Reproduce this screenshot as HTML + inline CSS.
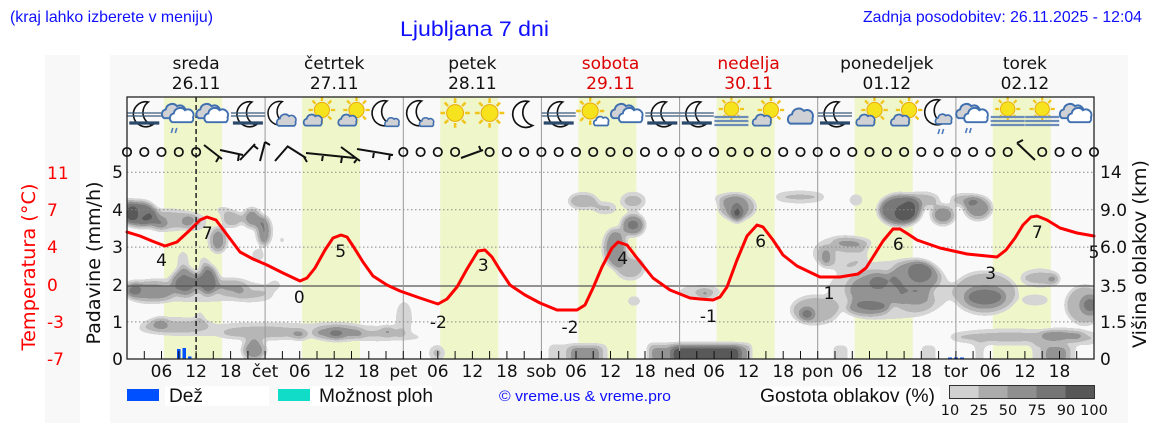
<!DOCTYPE html>
<html><head><meta charset="utf-8"><style>html,body{margin:0;padding:0;background:#fff}svg{display:block}</style></head><body>
<svg xmlns="http://www.w3.org/2000/svg" width="1152" height="443" viewBox="0 0 1152 443" font-family="'DejaVu Sans', sans-serif">
<defs>
<clipPath id="pc"><rect x="127" y="97" width="967" height="262"/></clipPath>
<filter id="cf" filterUnits="userSpaceOnUse" x="100" y="150" width="1020" height="230" color-interpolation-filters="sRGB">
<feGaussianBlur stdDeviation="3.2"/>
<feComponentTransfer><feFuncA type="discrete" tableValues="0 0.145 0.27 0.41 0.52 0.64"/></feComponentTransfer>
<feColorMatrix type="matrix" values="0 0 0 -0.9725 0.9725 0 0 0 -0.9725 0.9725 0 0 0 -0.9725 0.9725 0 0 0 100 0"/>
</filter>
</defs>
<rect width="1152" height="443" fill="#fff"/>
<rect x="45" y="55" width="35" height="368" fill="#f8f8f8"/>
<rect x="110" y="55" width="1018" height="368" fill="#f8f8f8"/>
<rect x="127" y="97" width="967" height="262" fill="#f9f9f9"/>
<g fill="#eff6c9">
<rect x="164" y="97" width="58" height="262"/><rect x="302.1" y="97" width="58" height="262"/><rect x="440.3" y="97" width="58" height="262"/><rect x="578.4" y="97" width="58" height="262"/><rect x="716.6" y="97" width="58" height="262"/><rect x="854.7" y="97" width="58" height="262"/><rect x="992.8" y="97" width="58" height="262"/>
</g>
<g clip-path="url(#pc)"><g filter="url(#cf)" fill="#000">
<ellipse cx="140" cy="214" rx="17" ry="13" fill-opacity="0.78"/><ellipse cx="129" cy="212" rx="8" ry="13" fill-opacity="0.6"/><ellipse cx="168" cy="220" rx="28" ry="11" fill-opacity="0.4"/><ellipse cx="160" cy="223" rx="7" ry="6" fill-opacity="0.5"/><ellipse cx="194" cy="222" rx="13" ry="9" fill-opacity="0.34"/><ellipse cx="218" cy="240" rx="9" ry="13" fill-opacity="0.58"/><ellipse cx="232" cy="219" rx="10" ry="8" fill-opacity="0.5"/><ellipse cx="252" cy="218" rx="9" ry="10" fill-opacity="0.6"/><ellipse cx="264" cy="231" rx="7" ry="15" fill-opacity="0.68"/><ellipse cx="258" cy="255" rx="6" ry="6" fill-opacity="0.38"/><ellipse cx="282" cy="240" rx="4" ry="5" fill-opacity="0.3"/><ellipse cx="222" cy="210" rx="8" ry="5" fill-opacity="0.25"/>
<ellipse cx="150" cy="292" rx="25" ry="11" fill-opacity="0.45"/><ellipse cx="133" cy="289" rx="9" ry="8" fill-opacity="0.45"/><ellipse cx="185" cy="282" rx="14" ry="14" fill-opacity="0.62"/><ellipse cx="208" cy="280" rx="10" ry="15" fill-opacity="0.72"/><ellipse cx="232" cy="288" rx="16" ry="8" fill-opacity="0.38"/><ellipse cx="183" cy="262" rx="6" ry="12" fill-opacity="0.3"/><ellipse cx="204" cy="262" rx="5" ry="6" fill-opacity="0.32"/><ellipse cx="275" cy="285" rx="6" ry="5" fill-opacity="0.35"/><ellipse cx="255" cy="296" rx="20" ry="7" fill-opacity="0.22"/><ellipse cx="200" cy="290" rx="75" ry="14" fill-opacity="0.22"/>
<ellipse cx="270" cy="330" rx="135" ry="9" fill-opacity="0.22"/>
<ellipse cx="175" cy="325" rx="36" ry="8" fill-opacity="0.32"/><ellipse cx="160" cy="323" rx="8" ry="5" fill-opacity="0.45"/><ellipse cx="262" cy="333" rx="42" ry="7" fill-opacity="0.28"/><ellipse cx="300" cy="335" rx="8" ry="5" fill-opacity="0.42"/><ellipse cx="338" cy="333" rx="26" ry="8" fill-opacity="0.45"/><ellipse cx="336" cy="334" rx="8" ry="4" fill-opacity="0.55"/><ellipse cx="378" cy="336" rx="26" ry="6" fill-opacity="0.28"/><ellipse cx="200" cy="318" rx="4" ry="8" fill-opacity="0.32"/><ellipse cx="404" cy="318" rx="9" ry="18" fill-opacity="0.27"/><ellipse cx="388" cy="331" rx="6" ry="5" fill-opacity="0.38"/><ellipse cx="410" cy="337" rx="15" ry="5" fill-opacity="0.22"/>
<ellipse cx="254" cy="350" rx="12" ry="11" fill-opacity="0.58"/><ellipse cx="437" cy="353" rx="8" ry="8" fill-opacity="0.38"/><rect x="548" y="344" width="60" height="20" fill-opacity="0.3"/><rect x="570" y="346" width="30" height="18" fill-opacity="0.45"/><rect x="648" y="344" width="103" height="20" fill-opacity="0.55"/><rect x="672" y="346" width="68" height="18" fill-opacity="0.9"/><rect x="832" y="344" width="17" height="20" fill-opacity="0.25"/><rect x="920" y="344" width="17" height="20" fill-opacity="0.25"/><rect x="974" y="344" width="11" height="20" fill-opacity="0.25"/><rect x="1032" y="343" width="44" height="20" fill-opacity="0.3"/><rect x="1045" y="346" width="22" height="18" fill-opacity="0.45"/>
<ellipse cx="583" cy="201" rx="15" ry="8" fill-opacity="0.48"/><ellipse cx="605" cy="208" rx="12" ry="6" fill-opacity="0.38"/><ellipse cx="633" cy="201" rx="13" ry="9" fill-opacity="0.38"/><ellipse cx="633" cy="225" rx="12" ry="11" fill-opacity="0.68"/><ellipse cx="615" cy="248" rx="12" ry="20" fill-opacity="0.58"/><ellipse cx="630" cy="268" rx="15" ry="12" fill-opacity="0.42"/><ellipse cx="634" cy="301" rx="8" ry="6" fill-opacity="0.28"/>
<ellipse cx="737" cy="207" rx="19" ry="13" fill-opacity="0.5"/><ellipse cx="737" cy="213" rx="6" ry="9" fill-opacity="0.82"/><ellipse cx="729" cy="198" rx="18" ry="5" fill-opacity="0.27"/><ellipse cx="800" cy="197" rx="26" ry="6" fill-opacity="0.38"/><ellipse cx="700" cy="292" rx="22" ry="7" fill-opacity="0.32"/><ellipse cx="705" cy="294" rx="6" ry="4" fill-opacity="0.45"/>
<ellipse cx="840" cy="253" rx="28" ry="17" fill-opacity="0.3"/><ellipse cx="826" cy="257" rx="6" ry="10" fill-opacity="0.42"/><ellipse cx="853" cy="243" rx="20" ry="6" fill-opacity="0.38"/><ellipse cx="856" cy="200" rx="8" ry="7" fill-opacity="0.28"/><ellipse cx="815" cy="310" rx="25" ry="15" fill-opacity="0.4"/><ellipse cx="807" cy="314" rx="7" ry="6" fill-opacity="0.68"/><ellipse cx="875" cy="290" rx="30" ry="20" fill-opacity="0.4"/><ellipse cx="878" cy="283" rx="10" ry="7" fill-opacity="0.55"/><ellipse cx="915" cy="277" rx="26" ry="18" fill-opacity="0.45"/><ellipse cx="920" cy="272" rx="12" ry="10" fill-opacity="0.56"/><ellipse cx="868" cy="308" rx="22" ry="8" fill-opacity="0.5"/><ellipse cx="915" cy="300" rx="20" ry="12" fill-opacity="0.38"/><ellipse cx="890" cy="290" rx="65" ry="32" fill-opacity="0.2"/><ellipse cx="900" cy="210" rx="22" ry="16" fill-opacity="0.75"/><ellipse cx="905" cy="213" rx="10" ry="8" fill-opacity="0.9"/><ellipse cx="922" cy="200" rx="18" ry="8" fill-opacity="0.42"/><ellipse cx="943" cy="215" rx="12" ry="10" fill-opacity="0.6"/><ellipse cx="965" cy="200" rx="15" ry="6" fill-opacity="0.48"/><ellipse cx="978" cy="208" rx="14" ry="12" fill-opacity="0.58"/><ellipse cx="960" cy="260" rx="3" ry="3" fill-opacity="0.3"/>
<ellipse cx="985" cy="293" rx="33" ry="22" fill-opacity="0.42"/><ellipse cx="985" cy="297" rx="20" ry="10" fill-opacity="0.54"/><ellipse cx="1040" cy="278" rx="20" ry="9" fill-opacity="0.38"/><ellipse cx="1053" cy="280" rx="6" ry="4" fill-opacity="0.48"/><ellipse cx="1035" cy="300" rx="15" ry="6" fill-opacity="0.3"/><ellipse cx="1085" cy="305" rx="20" ry="20" fill-opacity="0.45"/><ellipse cx="1090" cy="305" rx="8" ry="8" fill-opacity="0.6"/><ellipse cx="1010" cy="337" rx="62" ry="8" fill-opacity="0.38"/><ellipse cx="1062" cy="335" rx="22" ry="6" fill-opacity="0.5"/><ellipse cx="1085" cy="338" rx="15" ry="7" fill-opacity="0.35"/>
</g></g>
<g stroke="#888" stroke-width="1" stroke-dasharray="1.5,2.5">
<path d="M127,172.3H1094M127,209.7H1094M127,247.1H1094M127,321.9H1094"/>
</g>
<path d="M127,286H1094" stroke="#555" stroke-width="1.3"/>
<path d="M265.1,97V359M403.3,97V359M541.4,97V359M679.6,97V359M817.7,97V359M955.9,97V359" stroke="#999" stroke-width="1"/>
<g fill="#0050ff"><rect x="177" y="349" width="3.5" height="10"/><rect x="182.5" y="348" width="3.5" height="11"/><rect x="188" y="356.5" width="3.5" height="2.5"/></g>
<path d="M948,358.3H965" stroke="#0050ff" stroke-width="1.6" stroke-dasharray="4,2"/>
<polyline fill="none" stroke="#ff0000" stroke-width="3" stroke-linejoin="round" stroke-linecap="round" points="127,232 140,236 152,241 165,246 177,242 190,230 200,220 207,217 216,220 228,236 240,252 253,259 267,265 283,273 300,281 307,278 315,268 325,250 333,238 341,235 347,237 353,246 363,262 373,276 387,285 400,291 420,298 438,304 447,299 457,287 467,269 478,251 485,250 492,257 500,270 510,285 525,295 540,303 557,310 577,310 585,305 593,288 602,267 612,248 618,242 627,245 637,258 653,278 670,290 690,298 700,299 713,300 720,297 727,287 737,260 747,236 757,225 763,227 773,240 783,255 797,266 820,277 840,277 858,274 866,268 873,257 883,241 893,229 900,229 908,234 917,240 940,248 967,254 997,257 1006,250 1015,238 1023,225 1031,217 1037,216 1047,220 1060,228 1077,233 1094,236"/>
<g font-size="17" fill="#111" text-anchor="middle">
<text x="161.5" y="266">4</text><text x="207.3" y="239">7</text><text x="299.3" y="303">0</text><text x="340.7" y="257">5</text><text x="438.3" y="328">-2</text><text x="483.3" y="271">3</text><text x="570" y="333">-2</text><text x="622.7" y="264">4</text><text x="708.3" y="322">-1</text><text x="760.7" y="247">6</text><text x="829" y="299">1</text><text x="898.3" y="250">6</text><text x="990.7" y="279">3</text><text x="1037.3" y="238">7</text><text x="1094" y="258">5</text>
</g>
<path d="M196.1,97V359" stroke="#222" stroke-width="1.5" stroke-dasharray="5,3"/>
<g id="icons">
<g transform="translate(144.3,114)"><path d="M4,-12A12.5,12.5 0 1 0 8,11A13,13 0 0 1 4,-12Z" fill="#fff" stroke="#111" stroke-width="1.6"/><path d="M-17,-1H17M-17,2H17" stroke="#3b5a7a" stroke-width="1.3"/><path d="M-15,9H15" stroke="#2b4a6b" stroke-width="3.2"/></g>
<g transform="translate(178.8,114)"><path transform="translate(-5,-3) scale(.8)" d="M-12,9A6,6 0 0 1 -10,-2A8,8 0 0 1 4,-6A7,7 0 0 1 14,3A5,5 0 0 1 12,9Z" fill="#cfd1d4" stroke="#3f6fae" stroke-width="2.4"/><path transform="translate(3,1) scale(.8)" d="M-12,9A6,6 0 0 1 -10,-2A8,8 0 0 1 4,-6A7,7 0 0 1 14,3A5,5 0 0 1 12,9Z" fill="#fff" stroke="#3f6fae" stroke-width="2.4"/><path transform="translate(-4,14)" d="M-2,0l-1.5,5M2,0l-1.5,5" stroke="#4d79bd" stroke-width="1.6"/></g>
<g transform="translate(213.3,114)"><path transform="translate(-5,-3) scale(.8)" d="M-12,9A6,6 0 0 1 -10,-2A8,8 0 0 1 4,-6A7,7 0 0 1 14,3A5,5 0 0 1 12,9Z" fill="#cfd1d4" stroke="#3f6fae" stroke-width="2.4"/><path transform="translate(3,1) scale(.8)" d="M-12,9A6,6 0 0 1 -10,-2A8,8 0 0 1 4,-6A7,7 0 0 1 14,3A5,5 0 0 1 12,9Z" fill="#fff" stroke="#3f6fae" stroke-width="2.4"/></g>
<g transform="translate(247.9,114)"><path d="M4,-12A12.5,12.5 0 1 0 8,11A13,13 0 0 1 4,-12Z" fill="#fff" stroke="#111" stroke-width="1.6"/><path d="M-17,-1H17M-17,2H17" stroke="#3b5a7a" stroke-width="1.3"/><path d="M-15,9H15" stroke="#2b4a6b" stroke-width="3.2"/></g>
<g transform="translate(282.4,114)"><path transform="translate(-4,-1) scale(.95)" d="M4,-12A12.5,12.5 0 1 0 8,11A13,13 0 0 1 4,-12Z" fill="#fff" stroke="#111" stroke-width="1.6"/><path transform="translate(4,6) scale(.65)" d="M-12,9A6,6 0 0 1 -10,-2A8,8 0 0 1 4,-6A7,7 0 0 1 14,3A5,5 0 0 1 12,9Z" fill="#cfd1d4" stroke="#3f6fae" stroke-width="2.6"/></g>
<g transform="translate(316.9,114)"><g transform="translate(5,-4) scale(.95)"><path d="M9.5,0H14M6.7,6.7L9.9,9.9M0,9.5V14M-6.7,6.7L-9.9,9.9M-9.5,0H-14M-6.7,-6.7L-9.9,-9.9M0,-9.5V-14M6.7,-6.7L9.9,-9.9" stroke="#f0c419" stroke-width="2.4"/><circle r="8" fill="#f7e31d" stroke="#e9a90e" stroke-width="1"/></g><path transform="translate(-4,6) scale(.62)" d="M-12,9A6,6 0 0 1 -10,-2A8,8 0 0 1 4,-6A7,7 0 0 1 14,3A5,5 0 0 1 12,9Z" fill="#cfd1d4" stroke="#3f6fae" stroke-width="2.8"/></g>
<g transform="translate(351.5,114)"><g transform="translate(5,-4) scale(.95)"><path d="M9.5,0H14M6.7,6.7L9.9,9.9M0,9.5V14M-6.7,6.7L-9.9,9.9M-9.5,0H-14M-6.7,-6.7L-9.9,-9.9M0,-9.5V-14M6.7,-6.7L9.9,-9.9" stroke="#f0c419" stroke-width="2.4"/><circle r="8" fill="#f7e31d" stroke="#e9a90e" stroke-width="1"/></g><path transform="translate(-4,6) scale(.62)" d="M-12,9A6,6 0 0 1 -10,-2A8,8 0 0 1 4,-6A7,7 0 0 1 14,3A5,5 0 0 1 12,9Z" fill="#cfd1d4" stroke="#3f6fae" stroke-width="2.8"/></g>
<g transform="translate(386,114)"><path transform="translate(-3,-1)" d="M4,-12A12.5,12.5 0 1 0 8,11A13,13 0 0 1 4,-12Z" fill="#fff" stroke="#111" stroke-width="1.6"/><path transform="translate(6,8) scale(.48)" d="M-12,9A6,6 0 0 1 -10,-2A8,8 0 0 1 4,-6A7,7 0 0 1 14,3A5,5 0 0 1 12,9Z" fill="#cfd1d4" stroke="#3f6fae" stroke-width="3.2"/></g>
<g transform="translate(420.6,114)"><path transform="translate(-3,-1)" d="M4,-12A12.5,12.5 0 1 0 8,11A13,13 0 0 1 4,-12Z" fill="#fff" stroke="#111" stroke-width="1.6"/><path transform="translate(6,8) scale(.48)" d="M-12,9A6,6 0 0 1 -10,-2A8,8 0 0 1 4,-6A7,7 0 0 1 14,3A5,5 0 0 1 12,9Z" fill="#cfd1d4" stroke="#3f6fae" stroke-width="3.2"/></g>
<g transform="translate(455.1,113) scale(1.05)"><path d="M9.5,0H14M6.7,6.7L9.9,9.9M0,9.5V14M-6.7,6.7L-9.9,9.9M-9.5,0H-14M-6.7,-6.7L-9.9,-9.9M0,-9.5V-14M6.7,-6.7L9.9,-9.9" stroke="#f0c419" stroke-width="2.4"/><circle r="8" fill="#f7e31d" stroke="#e9a90e" stroke-width="1"/></g>
<g transform="translate(489.6,113) scale(1.05)"><path d="M9.5,0H14M6.7,6.7L9.9,9.9M0,9.5V14M-6.7,6.7L-9.9,9.9M-9.5,0H-14M-6.7,-6.7L-9.9,-9.9M0,-9.5V-14M6.7,-6.7L9.9,-9.9" stroke="#f0c419" stroke-width="2.4"/><circle r="8" fill="#f7e31d" stroke="#e9a90e" stroke-width="1"/></g>
<g transform="translate(524.2,114) scale(1.05)"><path d="M4,-12A12.5,12.5 0 1 0 8,11A13,13 0 0 1 4,-12Z" fill="#fff" stroke="#111" stroke-width="1.6"/></g>
<g transform="translate(558.7,114)"><path d="M4,-12A12.5,12.5 0 1 0 8,11A13,13 0 0 1 4,-12Z" fill="#fff" stroke="#111" stroke-width="1.6"/><path d="M-17,-1H17M-17,2H17" stroke="#3b5a7a" stroke-width="1.3"/><path d="M-15,9H15" stroke="#2b4a6b" stroke-width="3.2"/></g>
<g transform="translate(593.2,114)"><g transform="translate(-3,-3)"><path d="M9.5,0H14M6.7,6.7L9.9,9.9M0,9.5V14M-6.7,6.7L-9.9,9.9M-9.5,0H-14M-6.7,-6.7L-9.9,-9.9M0,-9.5V-14M6.7,-6.7L9.9,-9.9" stroke="#f0c419" stroke-width="2.4"/><circle r="8" fill="#f7e31d" stroke="#e9a90e" stroke-width="1"/></g><path transform="translate(8,7) scale(.5)" d="M-12,9A6,6 0 0 1 -10,-2A8,8 0 0 1 4,-6A7,7 0 0 1 14,3A5,5 0 0 1 12,9Z" fill="#fff" stroke="#3f6fae" stroke-width="3.4"/></g>
<g transform="translate(627.8,114)"><path transform="translate(-5,-3) scale(.8)" d="M-12,9A6,6 0 0 1 -10,-2A8,8 0 0 1 4,-6A7,7 0 0 1 14,3A5,5 0 0 1 12,9Z" fill="#cfd1d4" stroke="#3f6fae" stroke-width="2.4"/><path transform="translate(3,1) scale(.8)" d="M-12,9A6,6 0 0 1 -10,-2A8,8 0 0 1 4,-6A7,7 0 0 1 14,3A5,5 0 0 1 12,9Z" fill="#fff" stroke="#3f6fae" stroke-width="2.4"/></g>
<g transform="translate(662.3,114)"><path d="M4,-12A12.5,12.5 0 1 0 8,11A13,13 0 0 1 4,-12Z" fill="#fff" stroke="#111" stroke-width="1.6"/><path d="M-17,-1H17M-17,2H17" stroke="#3b5a7a" stroke-width="1.3"/><path d="M-15,9H15" stroke="#2b4a6b" stroke-width="3.2"/></g>
<g transform="translate(696.8,114)"><path d="M4,-12A12.5,12.5 0 1 0 8,11A13,13 0 0 1 4,-12Z" fill="#fff" stroke="#111" stroke-width="1.6"/><path d="M-17,-1H17M-17,2H17" stroke="#3b5a7a" stroke-width="1.3"/><path d="M-15,9H15" stroke="#2b4a6b" stroke-width="3.2"/></g>
<g transform="translate(731.4,114)"><g transform="translate(0,-5) scale(.9)"><path d="M9.5,0H14M6.7,6.7L9.9,9.9M0,9.5V14M-6.7,6.7L-9.9,9.9M-9.5,0H-14M-6.7,-6.7L-9.9,-9.9M0,-9.5V-14M6.7,-6.7L9.9,-9.9" stroke="#f0c419" stroke-width="2.4"/><circle r="8" fill="#f7e31d" stroke="#e9a90e" stroke-width="1"/></g><path d="M-17,3H17M-17,7H17M-17,11H17" stroke="#6b8db8" stroke-width="2.2"/></g>
<g transform="translate(765.9,114)"><g transform="translate(5,-4) scale(.95)"><path d="M9.5,0H14M6.7,6.7L9.9,9.9M0,9.5V14M-6.7,6.7L-9.9,9.9M-9.5,0H-14M-6.7,-6.7L-9.9,-9.9M0,-9.5V-14M6.7,-6.7L9.9,-9.9" stroke="#f0c419" stroke-width="2.4"/><circle r="8" fill="#f7e31d" stroke="#e9a90e" stroke-width="1"/></g><path transform="translate(-4,6) scale(.62)" d="M-12,9A6,6 0 0 1 -10,-2A8,8 0 0 1 4,-6A7,7 0 0 1 14,3A5,5 0 0 1 12,9Z" fill="#cfd1d4" stroke="#3f6fae" stroke-width="2.8"/></g>
<g transform="translate(800.5,116)"><path transform="scale(.85)" d="M-12,9A6,6 0 0 1 -10,-2A8,8 0 0 1 4,-6A7,7 0 0 1 14,3A5,5 0 0 1 12,9Z" fill="#cfd1d4" stroke="#3f6fae" stroke-width="2.3"/></g>
<g transform="translate(835,114)"><path d="M4,-12A12.5,12.5 0 1 0 8,11A13,13 0 0 1 4,-12Z" fill="#fff" stroke="#111" stroke-width="1.6"/><path d="M-17,-1H17M-17,2H17" stroke="#3b5a7a" stroke-width="1.3"/><path d="M-15,9H15" stroke="#2b4a6b" stroke-width="3.2"/></g>
<g transform="translate(869.5,114)"><g transform="translate(5,-4) scale(.95)"><path d="M9.5,0H14M6.7,6.7L9.9,9.9M0,9.5V14M-6.7,6.7L-9.9,9.9M-9.5,0H-14M-6.7,-6.7L-9.9,-9.9M0,-9.5V-14M6.7,-6.7L9.9,-9.9" stroke="#f0c419" stroke-width="2.4"/><circle r="8" fill="#f7e31d" stroke="#e9a90e" stroke-width="1"/></g><path transform="translate(-4,6) scale(.62)" d="M-12,9A6,6 0 0 1 -10,-2A8,8 0 0 1 4,-6A7,7 0 0 1 14,3A5,5 0 0 1 12,9Z" fill="#cfd1d4" stroke="#3f6fae" stroke-width="2.8"/></g>
<g transform="translate(904.1,114)"><g transform="translate(5,-4) scale(.95)"><path d="M9.5,0H14M6.7,6.7L9.9,9.9M0,9.5V14M-6.7,6.7L-9.9,9.9M-9.5,0H-14M-6.7,-6.7L-9.9,-9.9M0,-9.5V-14M6.7,-6.7L9.9,-9.9" stroke="#f0c419" stroke-width="2.4"/><circle r="8" fill="#f7e31d" stroke="#e9a90e" stroke-width="1"/></g><path transform="translate(-4,6) scale(.62)" d="M-12,9A6,6 0 0 1 -10,-2A8,8 0 0 1 4,-6A7,7 0 0 1 14,3A5,5 0 0 1 12,9Z" fill="#cfd1d4" stroke="#3f6fae" stroke-width="2.8"/></g>
<g transform="translate(938.6,114)"><path transform="translate(-3,-2)" d="M4,-12A12.5,12.5 0 1 0 8,11A13,13 0 0 1 4,-12Z" fill="#fff" stroke="#111" stroke-width="1.6"/><path transform="translate(5,5) scale(.55)" d="M-12,9A6,6 0 0 1 -10,-2A8,8 0 0 1 4,-6A7,7 0 0 1 14,3A5,5 0 0 1 12,9Z" fill="#cfd1d4" stroke="#3f6fae" stroke-width="3"/><path transform="translate(3,15)" d="M-2,0l-1.5,5M2,0l-1.5,5" stroke="#4d79bd" stroke-width="1.6"/></g>
<g transform="translate(973.1,114)"><path transform="translate(-5,-3) scale(.8)" d="M-12,9A6,6 0 0 1 -10,-2A8,8 0 0 1 4,-6A7,7 0 0 1 14,3A5,5 0 0 1 12,9Z" fill="#cfd1d4" stroke="#3f6fae" stroke-width="2.4"/><path transform="translate(3,1) scale(.8)" d="M-12,9A6,6 0 0 1 -10,-2A8,8 0 0 1 4,-6A7,7 0 0 1 14,3A5,5 0 0 1 12,9Z" fill="#fff" stroke="#3f6fae" stroke-width="2.4"/><path transform="translate(-4,14)" d="M-2,0l-1.5,5M2,0l-1.5,5" stroke="#4d79bd" stroke-width="1.6"/></g>
<g transform="translate(1007.7,114)"><g transform="translate(0,-5) scale(.9)"><path d="M9.5,0H14M6.7,6.7L9.9,9.9M0,9.5V14M-6.7,6.7L-9.9,9.9M-9.5,0H-14M-6.7,-6.7L-9.9,-9.9M0,-9.5V-14M6.7,-6.7L9.9,-9.9" stroke="#f0c419" stroke-width="2.4"/><circle r="8" fill="#f7e31d" stroke="#e9a90e" stroke-width="1"/></g><path d="M-17,3H17M-17,7H17M-17,11H17" stroke="#6b8db8" stroke-width="2.2"/></g>
<g transform="translate(1042.2,114)"><g transform="translate(0,-5) scale(.9)"><path d="M9.5,0H14M6.7,6.7L9.9,9.9M0,9.5V14M-6.7,6.7L-9.9,9.9M-9.5,0H-14M-6.7,-6.7L-9.9,-9.9M0,-9.5V-14M6.7,-6.7L9.9,-9.9" stroke="#f0c419" stroke-width="2.4"/><circle r="8" fill="#f7e31d" stroke="#e9a90e" stroke-width="1"/></g><path d="M-17,3H17M-17,7H17M-17,11H17" stroke="#6b8db8" stroke-width="2.2"/></g>
<g transform="translate(1076.7,114)"><path transform="translate(-5,-3) scale(.8)" d="M-12,9A6,6 0 0 1 -10,-2A8,8 0 0 1 4,-6A7,7 0 0 1 14,3A5,5 0 0 1 12,9Z" fill="#cfd1d4" stroke="#3f6fae" stroke-width="2.4"/><path transform="translate(3,1) scale(.8)" d="M-12,9A6,6 0 0 1 -10,-2A8,8 0 0 1 4,-6A7,7 0 0 1 14,3A5,5 0 0 1 12,9Z" fill="#fff" stroke="#3f6fae" stroke-width="2.4"/></g>
</g>
<g fill="none" stroke="#111" stroke-width="1.7">
<circle cx="127" cy="152" r="4.2"/><circle cx="144.3" cy="152" r="4.2"/><circle cx="161.5" cy="152" r="4.2"/><circle cx="178.8" cy="152" r="4.2"/><circle cx="196.1" cy="152" r="4.2"/>
<circle cx="403.3" cy="152" r="4.2"/><circle cx="420.6" cy="152" r="4.2"/><circle cx="437.8" cy="152" r="4.2"/><circle cx="455.1" cy="152" r="4.2"/><circle cx="489.6" cy="152" r="4.2"/><circle cx="506.9" cy="152" r="4.2"/><circle cx="524.2" cy="152" r="4.2"/><circle cx="541.4" cy="152" r="4.2"/><circle cx="558.7" cy="152" r="4.2"/><circle cx="576" cy="152" r="4.2"/><circle cx="593.2" cy="152" r="4.2"/><circle cx="610.5" cy="152" r="4.2"/><circle cx="627.8" cy="152" r="4.2"/><circle cx="645" cy="152" r="4.2"/><circle cx="662.3" cy="152" r="4.2"/><circle cx="679.6" cy="152" r="4.2"/><circle cx="696.8" cy="152" r="4.2"/><circle cx="714.1" cy="152" r="4.2"/><circle cx="731.4" cy="152" r="4.2"/><circle cx="748.6" cy="152" r="4.2"/><circle cx="765.9" cy="152" r="4.2"/><circle cx="783.2" cy="152" r="4.2"/><circle cx="800.5" cy="152" r="4.2"/><circle cx="817.7" cy="152" r="4.2"/><circle cx="835" cy="152" r="4.2"/><circle cx="852.3" cy="152" r="4.2"/><circle cx="869.5" cy="152" r="4.2"/><circle cx="886.8" cy="152" r="4.2"/><circle cx="904.1" cy="152" r="4.2"/><circle cx="921.3" cy="152" r="4.2"/><circle cx="938.6" cy="152" r="4.2"/><circle cx="955.9" cy="152" r="4.2"/><circle cx="973.1" cy="152" r="4.2"/><circle cx="990.4" cy="152" r="4.2"/><circle cx="1007.7" cy="152" r="4.2"/><circle cx="1042.2" cy="152" r="4.2"/><circle cx="1059.5" cy="152" r="4.2"/><circle cx="1076.7" cy="152" r="4.2"/><circle cx="1094" cy="152" r="4.2"/>
<path stroke-width="2" d="M204,145L222,159M219,157L216,162M220,150L243,155M239,154L238,161M240,160L255,144M253,145L258,149M265,142L260,161M265,142L270,145M275,161L288,146M287,146L306,158M304,157L307,162M306,153L355,158M323,155L322,161M342,157L341,163M341,147L360,161M357,159L354,163M357,149L393,155M374,152L373,158M390,154L389,160M461,158L483,150M481,151L479,146M1017,143L1035,160M1017,143L1023,140"/>
</g>
<rect x="127" y="97" width="967" height="262" fill="none" stroke="#222" stroke-width="1.3"/>
<path stroke="#111" stroke-width="1" d="M144.3,351V359M161.5,351V359M178.8,351V359M196.1,351V359M213.3,351V359M230.6,351V359M247.9,351V359M265.1,351V359M282.4,351V359M299.7,351V359M317,351V359M334.2,351V359M351.5,351V359M368.8,351V359M386,351V359M403.3,351V359M420.6,351V359M437.8,351V359M455.1,351V359M472.4,351V359M489.6,351V359M506.9,351V359M524.2,351V359M541.4,351V359M558.7,351V359M576,351V359M593.2,351V359M610.5,351V359M627.8,351V359M645,351V359M662.3,351V359M679.6,351V359M696.8,351V359M714.1,351V359M731.4,351V359M748.6,351V359M765.9,351V359M783.2,351V359M800.5,351V359M817.7,351V359M835,351V359M852.3,351V359M869.5,351V359M886.8,351V359M904.1,351V359M921.3,351V359M938.6,351V359M955.9,351V359M973.1,351V359M990.4,351V359M1007.7,351V359M1024.9,351V359M1042.2,351V359M1059.5,351V359M1076.7,351V359"/>
<g font-size="17" fill="#111" text-anchor="middle">
<text x="161.5" y="377">06</text><text x="196.1" y="377">12</text><text x="230.6" y="377">18</text>
<text x="265.1" y="377">čet</text><text x="299.7" y="377">06</text><text x="334.2" y="377">12</text><text x="368.8" y="377">18</text>
<text x="403.3" y="377">pet</text><text x="437.8" y="377">06</text><text x="472.4" y="377">12</text><text x="506.9" y="377">18</text>
<text x="541.4" y="377">sob</text><text x="576" y="377">06</text><text x="610.5" y="377">12</text><text x="645" y="377">18</text>
<text x="679.6" y="377">ned</text><text x="714.1" y="377">06</text><text x="748.6" y="377">12</text><text x="783.2" y="377">18</text>
<text x="817.7" y="377">pon</text><text x="852.3" y="377">06</text><text x="886.8" y="377">12</text><text x="921.3" y="377">18</text>
<text x="955.9" y="377">tor</text><text x="990.4" y="377">06</text><text x="1024.9" y="377">12</text><text x="1059.5" y="377">18</text>
</g>
<g font-size="17" fill="#111" text-anchor="middle">
<text x="196.1" y="69">sreda</text><text x="196.1" y="89">26.11</text>
<text x="334.2" y="69">četrtek</text><text x="334.2" y="89">27.11</text>
<text x="472.4" y="69">petek</text><text x="472.4" y="89">28.11</text>
<text x="610.5" y="69" fill="#dd0000">sobota</text><text x="610.5" y="89" fill="#dd0000">29.11</text>
<text x="748.6" y="69" fill="#dd0000">nedelja</text><text x="748.6" y="89" fill="#dd0000">30.11</text>
<text x="886.8" y="69">ponedeljek</text><text x="886.8" y="89">01.12</text>
<text x="1024.9" y="69">torek</text><text x="1024.9" y="89">02.12</text>
</g>
<g font-size="17" fill="#111" text-anchor="end">
<text x="123" y="178">5</text><text x="123" y="216">4</text><text x="123" y="253">3</text><text x="123" y="291">2</text><text x="123" y="328">1</text><text x="123" y="365">0</text>
</g>
<g font-size="17" fill="#111">
<text x="1100" y="178">14</text><text x="1100" y="216">9.0</text><text x="1100" y="253">6.0</text><text x="1100" y="292">3.5</text><text x="1100" y="328">1.5</text><text x="1100" y="365">0</text>
</g>
<g font-size="17" fill="#ff0000">
<text x="47" y="179">11</text><text x="47" y="216">7</text><text x="47" y="253">4</text><text x="47" y="291">0</text><text x="47" y="328">-3</text><text x="47" y="365">-7</text>
</g>
<text transform="translate(28,267) rotate(-90)" y="7" font-size="19" fill="#ff0000" text-anchor="middle" textLength="167" lengthAdjust="spacingAndGlyphs">Temperatura (°C)</text>
<text transform="translate(93,263) rotate(-90)" y="7" font-size="19" fill="#111" text-anchor="middle" textLength="163" lengthAdjust="spacingAndGlyphs">Padavine (mm/h)</text>
<text transform="translate(1139,254) rotate(-90)" y="7" font-size="19" fill="#111" text-anchor="middle" textLength="188" lengthAdjust="spacingAndGlyphs">Višina oblakov (km)</text>
<g font-family="'Liberation Sans', Arial, sans-serif">
<text x="10" y="22" font-size="16" fill="#1010ff" textLength="203" lengthAdjust="spacingAndGlyphs">(kraj lahko izberete v meniju)</text>
<text x="400" y="36" font-size="21.5" fill="#1010ff" textLength="149" lengthAdjust="spacingAndGlyphs">Ljubljana 7 dni</text>
<text x="1142" y="22" font-size="16" fill="#1010ff" text-anchor="end" textLength="279" lengthAdjust="spacingAndGlyphs">Zadnja posodobitev: 26.11.2025 - 12:04</text>
<rect x="127" y="389" width="32" height="12" fill="#0050ff"/>
<rect x="165" y="386" width="104" height="20" fill="#fff"/>
<text x="169" y="402" font-size="19" fill="#111" textLength="34" lengthAdjust="spacingAndGlyphs">Dež</text>
<rect x="278" y="389" width="32" height="12" fill="#10dcc8"/>
<rect x="310" y="386" width="122" height="20" fill="#fff"/>
<text x="319" y="402" font-size="19" fill="#111" textLength="114" lengthAdjust="spacingAndGlyphs">Možnost ploh</text>
<text x="499" y="401" font-size="15" fill="#1010ff" textLength="172" lengthAdjust="spacingAndGlyphs">© vreme.us &amp; vreme.pro</text>
<rect x="760" y="386.5" width="180" height="19" fill="#fff"/>
<text x="760" y="402" font-size="19" fill="#111" textLength="175" lengthAdjust="spacingAndGlyphs">Gostota oblakov (%)</text>
</g>
<g>
<rect x="949.5" y="385.5" width="29" height="13" fill="#d1d1d1"/><rect x="978.5" y="385.5" width="29" height="13" fill="#ababab"/><rect x="1007.5" y="385.5" width="29" height="13" fill="#8f8f8f"/><rect x="1036.5" y="385.5" width="29" height="13" fill="#757575"/><rect x="1065.5" y="385.5" width="29" height="13" fill="#575757"/>
<rect x="949.5" y="385.5" width="145" height="13" fill="none" stroke="#333" stroke-width="1"/>
</g>
<g font-size="14.5" fill="#111" text-anchor="middle">
<text x="950" y="415">10</text><text x="979" y="415">25</text><text x="1008" y="415">50</text><text x="1037" y="415">75</text><text x="1066" y="415">90</text><text x="1094" y="415">100</text>
</g>
</svg>
</body></html>
